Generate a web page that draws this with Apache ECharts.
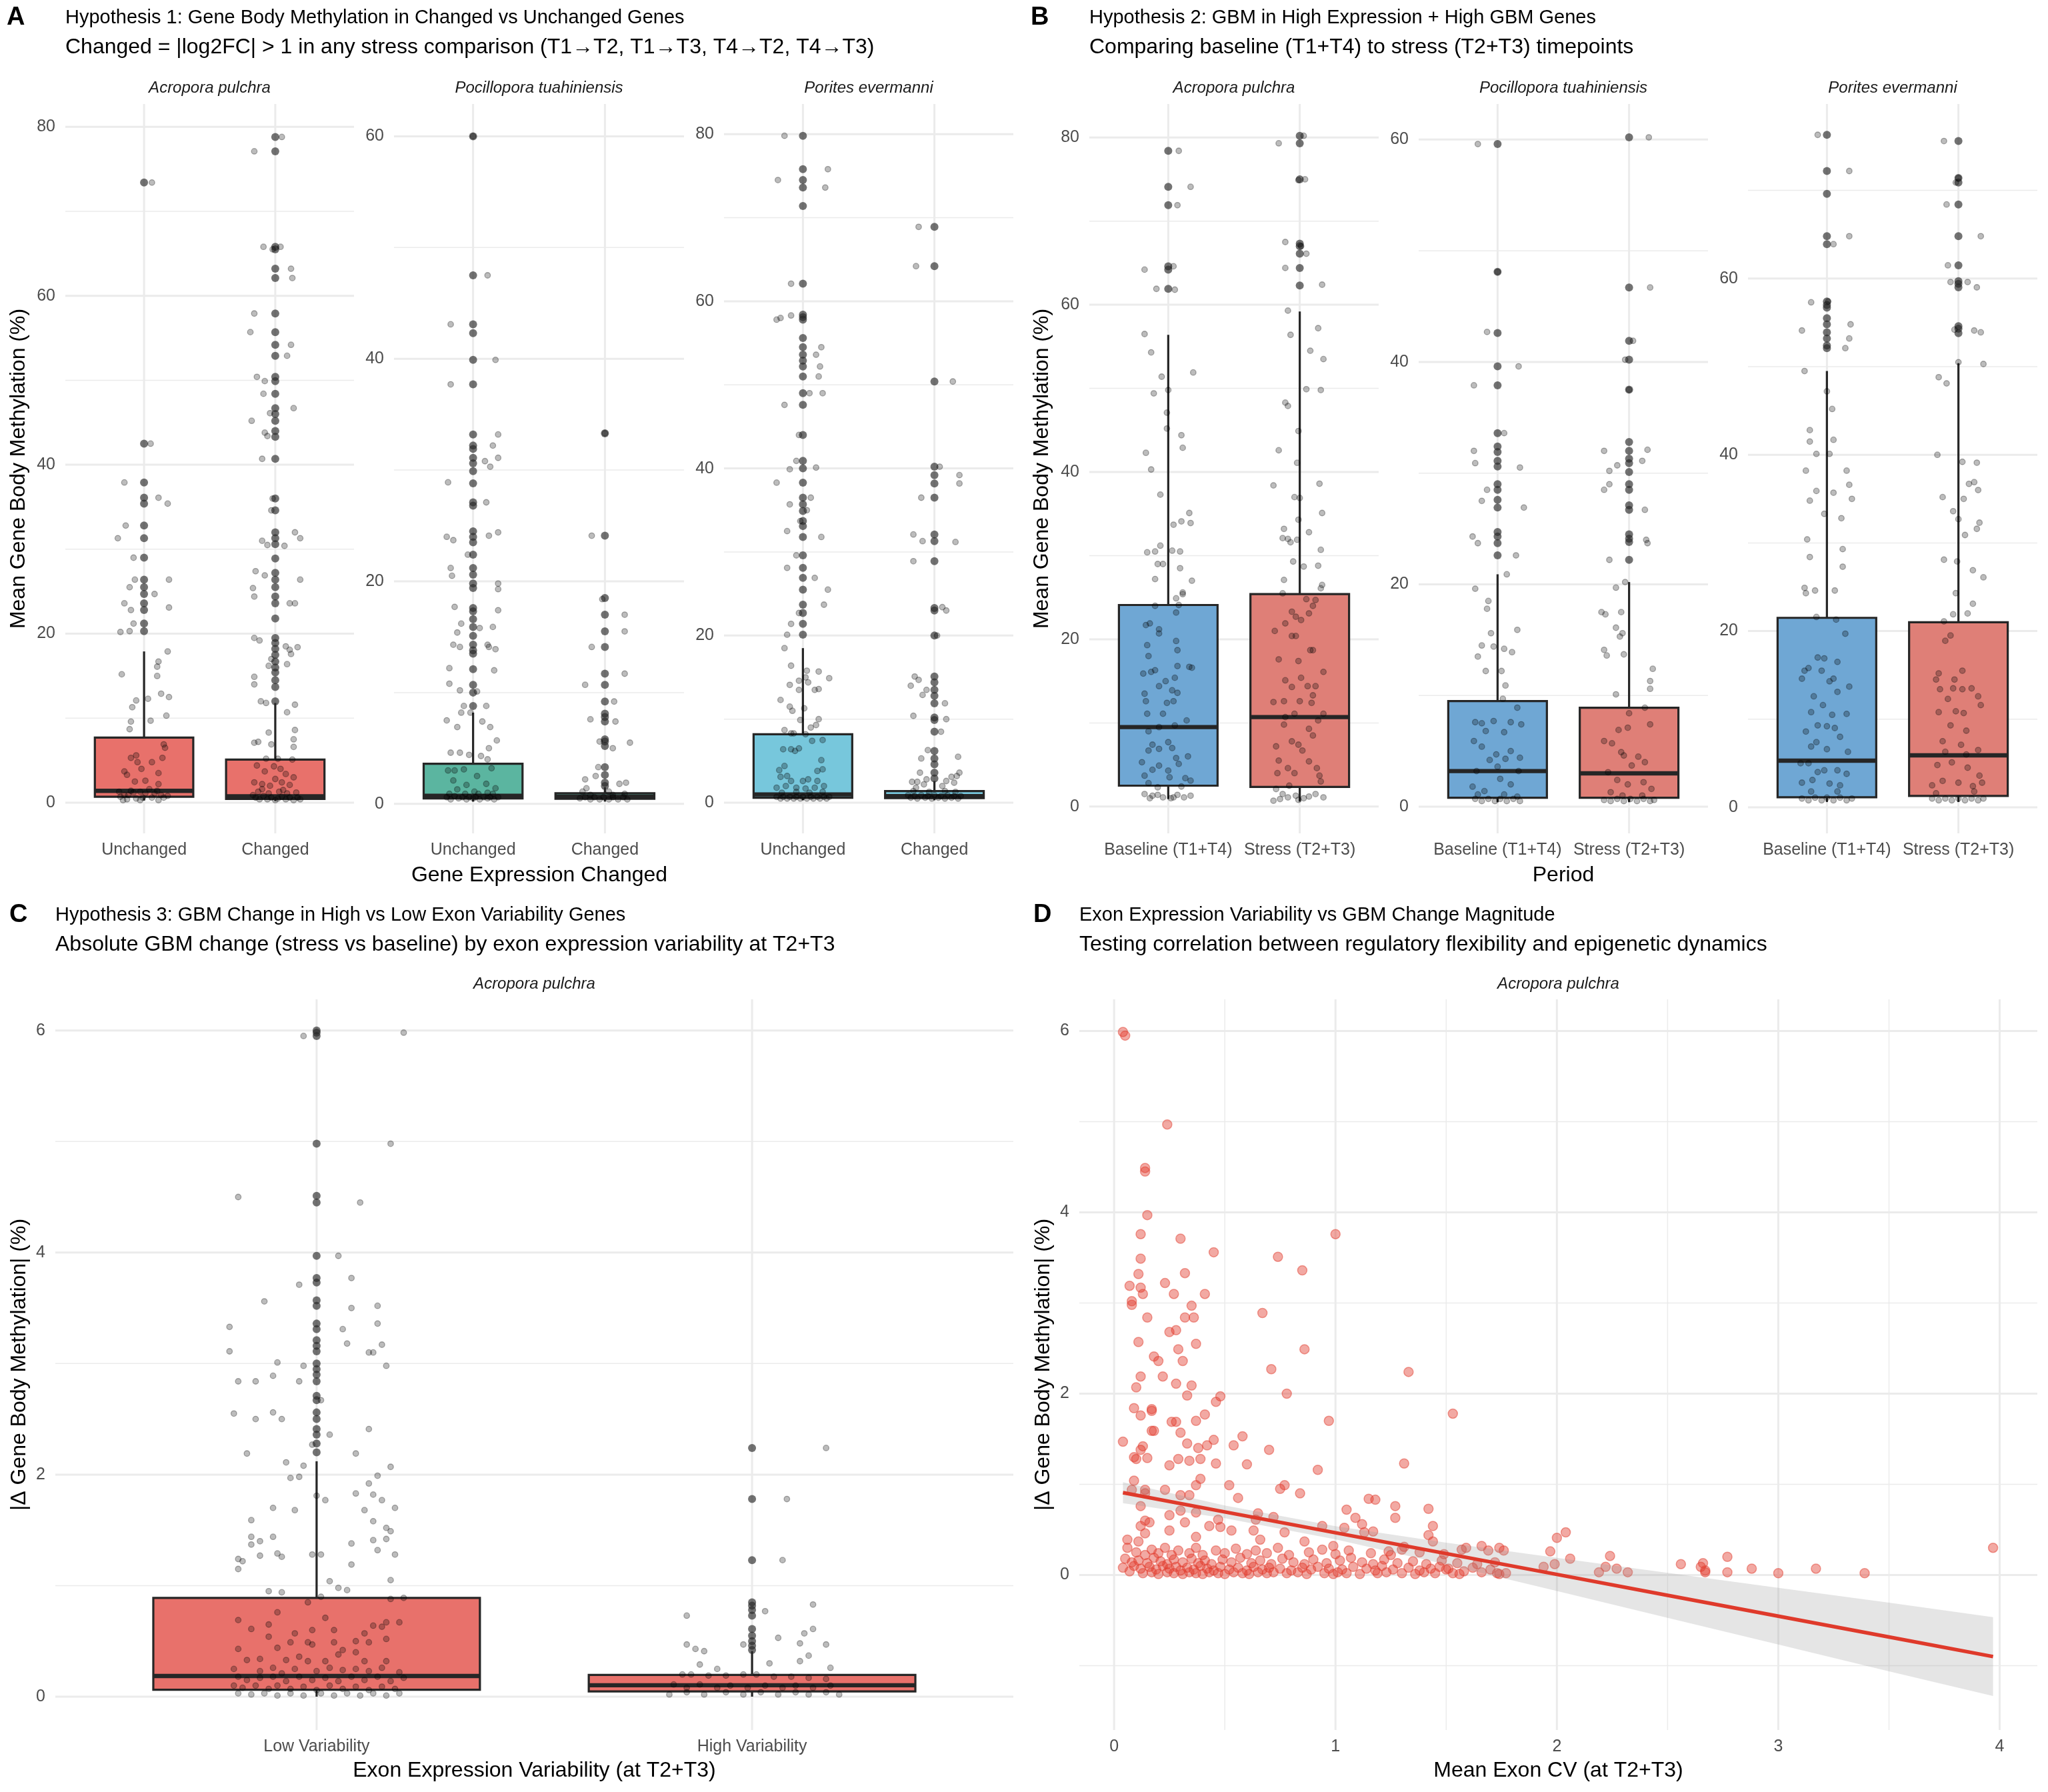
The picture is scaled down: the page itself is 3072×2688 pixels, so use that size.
<!DOCTYPE html>
<html><head><meta charset="utf-8">
<script src="https://cdn.jsdelivr.net/npm/echarts@6/dist/echarts.min.js"></script>
<style>html,body{margin:0;padding:0;background:#fff}#chart{width:3072px;height:2688px}</style>
</head><body><div id="chart"></div>
<script>
// ---------------- DATA ----------------
const speciesNames = ['Acropora pulchra','Pocillopora tuahiniensis','Porites evermanni'];
const catsA = ['Unchanged','Changed'];
const catsB = ['Baseline (T1+T4)','Stress (T2+T3)'];
const catsC = ['Low Variability','High Variability'];
const ticks80 = [0,20,40,60,80];
const ticks60 = [0,20,40,60];
const ticksC = [0,2,4,6];
const dXTicks = [0,1,2,3,4];
const dYTicks = [0,2,4,6];

// box stats: [lower whisker, Q1, median, Q3, upper whisker]
const a1UnchStats = [0.25,0.7,1.4,7.7,17.9];
const a1ChgStats  = [0.2,0.45,0.75,5.1,11.8];
const a2UnchStats = [0.2,0.48,0.72,3.6,8.2];
const a2ChgStats  = [0.2,0.45,0.65,0.95,1.5];
const a3UnchStats = [0.3,0.6,1.0,8.2,18.5];
const a3ChgStats  = [0.3,0.55,0.8,1.4,2.6];
const b1BaseStats = [0.9,2.5,9.5,24.1,56.4];
const b1StrStats  = [0.6,2.35,10.7,25.4,59.2];
const b2BaseStats = [0.4,0.8,3.2,9.5,20.9];
const b2StrStats  = [0.4,0.8,3.0,8.9,20.2];
const b3BaseStats = [0.6,1.15,5.3,21.5,49.5];
const b3StrStats  = [0.6,1.3,5.9,21.0,50.4];
const cLowStats   = [0.0,0.062,0.186,0.889,2.12];
const cHighStats  = [0.0,0.047,0.103,0.196,0.41];

// outliers (drawn at category centre)
const a1UnchOut = [73.4,42.5,37.9,36.1,35.4,32.8,31.3,29.0,26.4,25.5,24.7,23.6,22.8,21.2,20.3];
const a1ChgOut = [78.8,77.1,65.8,65.5,63.2,62.1,57.9,55.7,54.2,52.9,50.4,49.9,48.4,46.7,46.0,45.2,44.0,43.3,40.7,36.0,34.6,32.0,31.3,30.6,28.9,27.2,26.4,25.5,24.4,23.6,21.8,19.5,18.9,18.2,17.5,16.7,16.0,15.4,14.5,13.7,12.0];
const a2UnchOut = [60.0,47.5,43.1,42.3,39.9,37.7,33.2,32.2,31.9,31.1,30.6,29.9,28.8,27.1,26.8,24.5,24.0,23.5,22.4,21.2,20.6,19.8,19.4,17.6,17.3,16.6,15.9,15.1,14.3,13.8,13.5,12.1,10.7,10.0,8.8];
const a2ChgOut = [33.3,24.1,18.5,17.0,15.5,14.1,11.7,10.7,9.2,8.1,7.8,7.4,5.8,5.6,5.2,3.3,2.6,1.9,1.6];
const a3UnchOut = [79.8,75.8,74.5,73.6,71.4,62.1,58.4,58.1,57.8,55.6,54.5,53.6,52.9,52.2,51.0,49.0,47.6,44.0,40.9,40.0,38.3,36.5,35.7,34.9,33.7,33.1,31.8,29.6,28.1,26.9,25.5,23.7,22.7,21.4,20.1];
const a3ChgOut = [68.9,64.2,50.4,40.2,39.2,38.2,36.5,32.1,31.3,28.9,23.3,23.0,20.0,15.1,14.4,13.5,12.8,11.9,10.2,9.9,8.5,6.2,5.3,4.6,3.6,2.9];
const b1BaseOut = [78.4,74.1,71.9,64.6,64.2,61.9];
const b1StrOut = [80.2,79.3,75.0,67.3,67.0,66.1,64.4,62.3];
const b2BaseOut = [59.6,48.1,42.6,39.6,37.9,33.6,32.4,31.9,31.1,30.6,29.0,28.5,27.6,26.9,24.7,24.3,23.7,22.6];
const b2StrOut = [60.2,46.7,41.9,40.2,37.5,32.8,32.0,31.3,30.9,30.1,29.0,28.5,27.1,26.7,24.5,24.1,23.8,22.2];
const b3BaseOut = [76.3,72.2,69.6,64.8,63.9,57.4,57.0,56.7,55.5,54.8,53.9,53.2,52.4,52.1];
const b3StrOut = [75.6,71.4,70.9,68.4,64.8,61.5,59.7,59.4,59.0,54.6,54.3,53.8];
const cLowOut = [6.0,5.98,5.95,4.98,4.51,4.45,3.97,3.77,3.73,3.57,3.52,3.36,3.31,3.21,3.16,3.11,3.0,2.95,2.9,2.84,2.71,2.67,2.56,2.5,2.41,2.36,2.28,2.2];
const cHighOut = [2.24,1.78,1.23,0.85,0.82,0.78,0.73,0.61,0.55,0.5,0.46,0.42];

// jittered points: [offset from category centre, value]
const a1UnchJit = [[0.06,73.4],[0.05,42.5],[-0.15,37.9],[0.11,36.1],[0.18,35.4],[-0.14,32.8],[-0.2,31.3],[-0.08,29.0],[0.19,26.4],[-0.07,26.4],[-0.11,25.5],[0.08,24.7],[-0.15,23.6],[-0.1,22.8],[0.19,23.1],[-0.08,21.2],[-0.11,20.3],[-0.18,20.2],[0.18,17.9],[0.11,16.7],[0.1,16.1],[-0.17,15.2],[0.1,15.0],[0.13,12.9],[0.19,12.5],[-0.06,12.1],[0.03,12.3],[-0.09,11.3],[0.17,10.3],[-0.1,9.6],[0.05,9.7],[-0.11,8.7],[0.15,6.9],[0.16,6.5],[-0.1,5.3],[-0.06,5.6],[-0.05,4.8],[0.06,4.8],[0.14,5.3],[-0.15,3.7],[-0.02,4.0],[-0.13,3.3],[0.11,3.5],[-0.07,2.5],[0.01,2.6],[0.11,2.2],[-0.19,1.3],[-0.15,0.9],[-0.08,1.2],[-0.03,1.3],[0.01,1.1],[0.08,1.1],[0.13,0.9],[-0.13,0.4],[-0.06,0.5],[0.06,0.6],[0.15,0.6],[-0.16,0.3],[0.11,0.3],[0.18,0.8],[-0.1,1.4],[0.04,1.6],[-0.03,0.3],[0.1,1.4],[-0.18,0.7],[-0.01,0.6],[-0.12,0.9]];
const a1ChgJit = [[0.05,78.8],[-0.16,77.1],[-0.09,65.8],[0.04,65.8],[-0.02,65.5],[0.12,63.2],[0.13,62.1],[-0.16,57.9],[-0.19,55.7],[0.12,54.2],[0.09,52.9],[-0.14,50.4],[-0.08,49.9],[-0.09,48.4],[0.14,46.7],[-0.04,46.1],[-0.18,45.2],[-0.08,43.8],[-0.06,43.4],[-0.1,40.7],[-0.02,36.0],[-0.03,34.6],[0.15,32.0],[0.19,31.3],[-0.1,31.0],[-0.06,30.5],[0.07,30.4],[-0.15,27.4],[-0.08,26.9],[0.19,26.4],[-0.17,25.4],[-0.16,24.4],[0.11,23.6],[0.15,23.6],[-0.16,19.5],[-0.12,19.2],[0.08,18.5],[0.11,18.1],[0.17,18.4],[-0.03,17.0],[0.12,17.6],[0.09,16.4],[-0.05,16.2],[-0.16,14.9],[-0.16,14.0],[-0.11,12.0],[-0.07,11.8],[0.15,11.6],[0.09,10.7],[-0.05,8.3],[0.15,8.6],[0.14,7.5],[-0.13,7.2],[-0.16,7.1],[-0.03,6.9],[0.14,6.6],[-0.07,5.2],[0.02,5.2],[0.13,5.1],[-0.01,4.3],[0.04,4.0],[-0.14,4.4],[-0.08,3.7],[0.08,3.4],[0,2.8],[0.14,3.0],[-0.16,2.4],[-0.1,2.2],[-0.04,2.0],[0.05,2.4],[0.11,2.1],[-0.17,0.9],[-0.15,0.6],[-0.12,0.4],[-0.09,0.8],[-0.06,0.4],[-0.03,0.6],[0,0.3],[0.02,0.5],[0.05,0.7],[0.08,0.4],[0.11,0.6],[0.14,0.3],[0.17,0.6],[0.19,0.4],[-0.13,1.3],[-0.05,1.1],[0.03,1.3],[0.09,1.1],[0.16,1.2],[-0.1,1.6],[0.06,1.5]];
const a2UnchJit = [[0,60.0],[0.11,47.5],[-0.17,43.1],[0.17,39.9],[-0.17,37.7],[0.19,33.2],[0.15,32.2],[0.19,31.1],[0.09,30.8],[0.13,30.3],[-0.19,28.9],[0.1,27.1],[-0.2,24.0],[-0.15,23.7],[0.12,24.1],[0.19,24.4],[-0.04,22.4],[-0.17,21.2],[-0.16,20.5],[0.19,19.8],[0.19,19.3],[-0.14,17.7],[0.19,17.4],[-0.09,16.2],[0.05,15.8],[-0.12,15.4],[0.15,15.9],[-0.15,14.3],[-0.1,14.1],[0.11,14.3],[0.12,14.1],[0.17,13.9],[-0.18,12.2],[0.16,12.0],[-0.18,10.8],[-0.1,10.2],[0.03,10.1],[-0.07,8.8],[0.1,8.8],[-0.09,8.2],[-0.02,8.2],[-0.2,7.5],[-0.12,6.9],[0.07,7.4],[0.13,6.9],[0.18,5.7],[0.12,5.0],[-0.17,4.6],[-0.1,4.6],[-0.03,4.4],[0.06,4.3],[0.11,4.0],[-0.14,3.0],[-0.07,3.1],[0.03,2.5],[0.14,3.2],[-0.19,3.0],[-0.15,2.1],[-0.05,1.7],[0.1,1.8],[0.17,1.4],[-0.2,0.6],[-0.17,0.4],[-0.14,0.7],[-0.11,0.5],[-0.08,0.6],[-0.05,0.4],[-0.03,0.6],[0,0.5],[0.02,0.6],[0.05,0.4],[0.08,0.6],[0.11,0.5],[0.13,0.6],[0.16,0.4],[0.19,0.6],[-0.18,0.9],[-0.06,0.9],[0.04,0.9],[0.15,0.9],[-0.12,1.3],[0.01,1.1],[0.11,1.0]];
const a2ChgJit = [[0,33.3],[-0.1,24.1],[-0.02,18.4],[0.15,17.0],[0.15,15.5],[-0.1,14.1],[-0.15,10.7],[0.15,11.7],[0.07,9.2],[-0.11,7.6],[0.08,7.4],[-0.04,5.6],[0.19,5.5],[0.06,5.0],[-0.05,3.3],[-0.15,2.2],[-0.07,2.5],[-0.14,1.4],[0.11,1.8],[0.16,1.9],[-0.17,1.1],[0.03,1.1],[-0.19,0.5],[-0.15,0.6],[-0.11,0.4],[-0.08,0.6],[-0.04,0.4],[-0.01,0.6],[0.03,0.4],[0.06,0.6],[0.1,0.4],[0.14,0.6],[0.17,0.4],[-0.11,0.8],[0.06,0.8],[0.15,0.9]];
const a3UnchJit = [[-0.14,79.8],[0.19,75.8],[-0.19,74.5],[0.17,73.6],[-0.09,62.1],[-0.2,57.8],[-0.17,58.0],[-0.09,58.3],[0.14,54.5],[0.1,53.6],[0.13,52.2],[0.12,51.0],[0.05,49.0],[0.15,49.0],[-0.14,47.6],[-0.03,44.0],[-0.05,40.9],[-0.1,39.9],[0.1,40.1],[-0.2,38.3],[0.06,36.5],[-0.1,35.7],[0.03,35.0],[-0.02,33.7],[-0.12,32.5],[0.14,31.8],[-0.05,29.6],[-0.12,28.1],[0.09,26.9],[0.19,25.5],[0.16,23.7],[-0.03,22.7],[-0.09,21.4],[-0.12,20.1],[-0.14,18.5],[-0.09,16.4],[0.03,15.8],[0.12,15.7],[0.2,14.9],[-0.03,14.6],[0.02,15.0],[0.04,14.4],[-0.1,14.1],[-0.03,13.5],[0.09,13.5],[0.12,13.6],[-0.17,12.3],[-0.1,11.5],[-0.08,11.0],[0.01,11.3],[-0.02,9.9],[0.12,10.0],[0.06,9.0],[0.1,9.3],[-0.14,8.7],[-0.09,8.3],[-0.07,8.3],[0.02,8.2],[0.07,7.4],[0.15,7.5],[-0.15,6.4],[-0.09,6.4],[-0.06,6.2],[-0.03,6.5],[0.14,5.1],[-0.14,4.4],[-0.18,3.9],[0.11,3.8],[0.15,4.0],[-0.17,3.1],[-0.12,3.2],[-0.09,2.6],[0,2.6],[0.04,2.8],[0.11,2.6],[-0.2,1.8],[-0.13,2.0],[-0.05,1.8],[0.02,1.7],[0.09,1.8],[0.16,2.0],[-0.2,0.7],[-0.17,0.5],[-0.15,0.7],[-0.12,0.5],[-0.1,0.7],[-0.07,0.5],[-0.05,0.7],[-0.02,0.5],[0,0.7],[0.03,0.5],[0.06,0.7],[0.08,0.5],[0.11,0.7],[0.13,0.5],[0.16,0.7],[0.18,0.5],[0.2,0.7],[-0.16,1.2],[-0.05,1.3],[0.05,1.2],[0.15,1.3]];
const a3ChgJit = [[-0.12,68.9],[-0.14,64.2],[0.14,50.4],[0.04,40.2],[0.19,39.2],[0.19,38.2],[-0.1,36.5],[-0.16,32.1],[-0.09,31.3],[0.16,31.2],[-0.16,28.9],[0.06,23.4],[0.09,23.0],[0.02,20.0],[-0.15,15.1],[-0.12,14.7],[-0.18,14.0],[-0.06,13.5],[-0.09,12.9],[0.08,11.9],[0.09,10.0],[-0.16,10.4],[0.05,8.5],[-0.05,6.3],[-0.1,5.3],[0.18,5.5],[-0.11,3.6],[0.19,3.6],[-0.17,2.5],[-0.13,2.5],[-0.06,2.8],[0.09,2.6],[0.13,3.1],[0.17,3.2],[-0.14,1.8],[-0.08,2.2],[0.06,2.0],[0.15,2.4],[-0.2,0.9],[-0.18,0.6],[-0.15,0.8],[-0.13,0.5],[-0.1,0.9],[-0.07,0.6],[-0.05,0.8],[-0.02,0.5],[0,0.9],[0.03,0.6],[0.05,0.8],[0.08,0.5],[0.1,0.9],[0.13,0.6],[0.15,0.8],[0.18,0.5],[0.2,0.8],[-0.16,1.4],[-0.04,1.3],[0.08,1.4],[0.16,1.3]];
const b1BaseJit = [[0.08,78.4],[0.17,74.1],[0.07,71.9],[0.04,64.6],[-0.18,64.2],[-0.09,61.9],[0.05,61.8],[-0.18,56.5],[-0.13,54.3],[0.19,51.9],[-0.05,51.4],[0,49.8],[-0.11,49.4],[-0.01,47.1],[-0.01,45.2],[0.1,44.4],[0.11,42.9],[-0.17,42.3],[-0.13,40.3],[-0.06,37.3],[0.04,33.7],[0.1,34.1],[0.17,33.9],[0.16,35.1],[-0.06,31.2],[-0.16,30.4],[-0.1,30.5],[0.03,30.6],[0.09,30.5],[-0.08,29.0],[-0.04,29.0],[0.09,28.5],[-0.1,27.2],[0.18,27.0],[0.11,25.6],[0.11,25.4],[0.06,24.9],[0.08,24.1],[-0.1,24.0],[0.06,23.2],[-0.17,21.7],[-0.14,21.9],[-0.07,21.2],[0.06,19.8],[-0.16,19.3],[-0.07,20.7],[0.07,18.7],[-0.15,18.0],[0.16,16.7],[0.07,16.8],[0.18,16.6],[-0.19,15.9],[-0.13,16.1],[-0.1,16.3],[-0.02,15.0],[0.05,15.4],[-0.07,14.4],[0.03,13.9],[0.07,13.6],[-0.18,13.5],[0.04,12.6],[-0.17,12.6],[-0.01,12.4],[-0.16,11.1],[-0.04,11.1],[0.14,10.3],[0.05,9.7],[-0.07,9.5],[-0.15,9.0],[0,7.7],[-0.07,6.9],[0.03,7.0],[-0.15,6.7],[-0.12,7.4],[0.06,5.8],[0.15,6.0],[-0.2,5.3],[-0.07,4.9],[0.08,5.1],[0,4.3],[-0.12,4.4],[-0.18,3.7],[0.01,3.5],[0.13,3.4],[0.17,3.1],[-0.15,2.8],[-0.08,2.3],[0.1,2.4],[-0.18,1.5],[-0.12,1.3],[-0.04,1.1],[0.02,1.0],[0.07,1.4],[0.12,1.1],[0.17,1.3],[-0.14,1.0],[-0.08,1.4],[0.04,1.1]];
const b1StrJit = [[0.03,80.2],[-0.16,79.3],[-0.01,74.9],[0.04,75.0],[-0.11,67.5],[0.01,67.0],[0.05,66.1],[-0.11,64.4],[0.17,62.4],[-0.09,59.3],[0.14,57.2],[-0.07,56.4],[0.08,54.5],[0.18,53.5],[0.05,49.9],[0.16,49.8],[-0.11,48.3],[-0.09,47.9],[-0.01,44.9],[-0.16,42.6],[-0.02,41.1],[-0.2,38.4],[0.15,38.6],[-0.04,37.0],[0,36.9],[-0.12,33.2],[-0.01,34.3],[0.17,35.1],[-0.13,32.1],[-0.09,32.0],[0.07,32.8],[-0.02,31.9],[-0.07,31.6],[0.16,30.7],[-0.05,29.3],[0.14,28.8],[0.03,28.7],[-0.12,27.1],[0.17,26.5],[0.16,26.1],[-0.13,25.5],[0.05,24.8],[0.12,24.7],[0.1,24.0],[-0.06,23.3],[-0.03,22.7],[0.07,23.1],[0.01,22.3],[-0.11,21.9],[-0.03,20.4],[-0.19,21.0],[-0.06,20.4],[0.08,18.7],[0.1,18.7],[-0.16,17.6],[-0.01,17.4],[0.01,15.4],[0.18,16.1],[-0.11,15.1],[0.06,14.4],[-0.06,14.3],[0.12,14.4],[0.1,13.3],[-0.12,12.6],[-0.2,12.5],[0,12.6],[0.09,12.4],[0.18,11.1],[-0.11,10.7],[-0.04,11.1],[0.14,10.3],[-0.12,9.8],[0.07,9.3],[0.1,8.5],[-0.06,7.8],[-0.01,7.4],[-0.18,7.2],[0.02,6.7],[-0.16,5.5],[0.07,5.4],[-0.09,4.6],[0.13,4.6],[0.15,3.7],[-0.17,4.0],[-0.04,4.0],[0.16,3.0],[-0.08,2.5],[-0.18,2.1],[-0.13,1.5],[-0.09,1.1],[-0.03,1.3],[0.03,1.0],[0.07,1.2],[0.12,1.5],[0.18,1.1],[-0.2,0.7],[-0.01,0.8],[-0.15,0.9]];
const b2BaseJit = [[-0.15,59.6],[0,48.1],[-0.08,42.7],[0.16,39.6],[-0.18,37.9],[0.05,33.6],[-0.18,32.0],[-0.17,30.9],[0.17,30.5],[-0.08,28.5],[-0.12,27.5],[0.2,26.9],[-0.19,24.3],[-0.15,23.7],[0.14,22.6],[0.07,20.9],[-0.17,19.6],[-0.07,18.5],[-0.08,17.8],[-0.05,15.6],[0.15,15.9],[-0.12,14.5],[-0.03,14.4],[-0.15,13.5],[0.05,14.2],[0.11,13.9],[0.03,12.2],[-0.09,12.2],[0.06,10.9],[0.04,9.7],[0.15,8.9],[-0.17,7.6],[-0.12,7.5],[-0.03,7.7],[0.1,7.6],[0.18,7.4],[-0.09,6.8],[0.05,6.7],[-0.18,5.9],[-0.12,5.4],[-0.01,4.7],[0.1,5.0],[0.17,4.4],[0.06,4.3],[-0.06,4.2],[0,3.6],[-0.16,3.2],[0.16,3.2],[0.02,2.5],[-0.19,1.8],[0.1,2.0],[-0.1,1.4],[-0.17,0.7],[-0.12,0.5],[-0.07,0.7],[-0.02,0.5],[0.02,0.7],[0.07,0.5],[0.12,0.7],[0.17,0.5],[-0.15,1.1],[0.05,1.1],[0.15,0.9]];
const b2StrJit = [[0.15,60.2],[0.16,46.7],[0.03,41.9],[-0.03,40.2],[0,37.5],[-0.19,32.0],[0.14,32.1],[0.1,31.1],[-0.09,30.7],[-0.15,30.2],[-0.19,28.5],[-0.15,29.0],[0.12,26.7],[0.13,24.0],[0.14,23.7],[-0.15,22.2],[-0.03,20.2],[-0.1,19.7],[-0.21,17.5],[-0.18,17.3],[-0.06,17.5],[-0.1,16.1],[-0.05,15.6],[-0.07,15.3],[-0.19,14.1],[-0.17,13.6],[-0.04,13.7],[0.18,12.4],[0.16,11.3],[0.16,10.6],[-0.1,10.1],[0.12,8.9],[0,8.4],[-0.08,6.9],[-0.01,7.1],[0.16,7.4],[-0.19,5.9],[-0.13,5.7],[-0.06,4.9],[-0.04,4.6],[0.07,4.5],[0.12,4.0],[0.02,3.7],[-0.16,3.1],[-0.09,2.4],[-0.01,2.0],[0.11,2.2],[0.17,1.6],[-0.14,1.3],[-0.19,0.6],[-0.14,0.5],[-0.09,0.7],[-0.04,0.5],[0.01,0.7],[0.06,0.5],[0.11,0.7],[0.16,0.5],[0.19,0.6],[-0.05,1.0],[0.1,1.0]];
const b3BaseJit = [[-0.07,76.3],[0.17,72.2],[0.17,64.8],[0.05,63.9],[-0.12,57.3],[0.01,57.4],[-0.19,54.1],[0.18,54.8],[0.17,53.2],[0.14,52.1],[-0.17,49.5],[0,47.2],[0.04,45.2],[-0.13,42.8],[-0.13,41.5],[0.05,41.7],[-0.08,40.1],[0.02,40.1],[-0.16,38.2],[0.15,38.2],[-0.08,35.9],[0.05,35.7],[0.17,36.6],[0.19,35.0],[-0.13,34.8],[-0.02,33.3],[0.11,32.8],[-0.15,30.4],[0.12,29.3],[-0.13,28.4],[0.12,27.3],[-0.17,24.9],[-0.16,24.3],[-0.09,24.6],[0.06,24.6],[-0.08,21.6],[0.07,21.3],[0.14,19.7],[-0.07,17.0],[-0.02,16.9],[0.08,16.5],[-0.17,15.5],[-0.14,15.8],[-0.04,15.5],[-0.19,14.6],[0.05,14.6],[0.02,14.3],[0.17,13.7],[-0.1,12.6],[0.08,13.1],[-0.03,11.6],[-0.12,10.8],[0.04,10.5],[0.15,10.6],[-0.07,9.3],[0,9.2],[0.06,9.0],[-0.16,8.6],[-0.08,7.4],[0.1,8.0],[-0.12,6.9],[0,6.6],[0.16,6.3],[-0.2,5.0],[-0.14,5.0],[-0.02,4.2],[-0.07,4.0],[0.08,4.2],[0.15,3.8],[-0.19,2.8],[-0.11,3.1],[0.02,2.7],[0.1,2.5],[-0.19,1.0],[-0.14,0.8],[-0.09,1.1],[-0.04,0.8],[0,1.1],[0.05,0.8],[0.1,1.1],[0.15,0.8],[0.19,1.0],[-0.12,1.8],[0.08,1.8]];
const b3StrJit = [[-0.11,75.6],[0,71.4],[-0.02,70.9],[-0.09,68.4],[0.17,64.8],[-0.08,61.5],[-0.06,59.6],[0.07,59.6],[0.14,59.0],[0.12,54.1],[0.17,53.9],[-0.03,54.2],[0.19,50.3],[0,50.5],[-0.15,48.8],[-0.09,48.1],[-0.16,40.0],[0.03,39.2],[0.14,39.1],[0.08,36.7],[0.12,36.9],[0.15,36.0],[-0.12,35.2],[0.04,35.0],[-0.04,33.6],[0,32.7],[0.16,32.3],[0.14,31.6],[0.05,30.9],[-0.11,28.1],[-0.01,27.9],[0.11,26.9],[0.19,26.1],[-0.02,24.3],[0.11,23.1],[0.07,22.0],[-0.04,21.9],[-0.11,21.1],[-0.06,19.5],[-0.1,18.9],[-0.15,15.2],[-0.03,14.5],[-0.17,14.5],[0.03,15.5],[-0.14,13.4],[-0.04,13.5],[0.03,13.4],[0.1,13.5],[0.15,12.6],[-0.08,12.3],[0.17,11.6],[-0.15,10.8],[-0.02,10.9],[0.04,10.7],[-0.06,9.3],[0.06,8.7],[-0.12,7.5],[0.02,7.1],[-0.1,6.3],[0.06,6.0],[0.15,6.5],[-0.16,4.8],[-0.05,5.1],[0.07,4.5],[0.16,3.6],[-0.2,2.5],[-0.12,3.0],[0,2.8],[0.11,2.4],[0.18,2.8],[-0.2,1.0],[-0.15,0.8],[-0.1,1.0],[-0.05,0.8],[0,1.0],[0.05,0.8],[0.1,1.0],[0.15,0.8],[0.19,1.0],[-0.17,1.6],[0.12,1.8]];
const cLowJit = [[-0.03,5.95],[0.2,5.98],[0.17,4.98],[-0.18,4.5],[0.1,4.45],[0.05,3.97],[-0.04,3.71],[0.08,3.77],[-0.12,3.56],[0.08,3.5],[0.14,3.52],[-0.2,3.33],[0.06,3.31],[0.14,3.36],[0.07,3.18],[0.15,3.17],[-0.2,3.11],[0.12,3.1],[0.13,3.1],[-0.09,3.01],[-0.03,2.98],[0.16,2.98],[-0.18,2.84],[-0.14,2.84],[-0.1,2.89],[-0.04,2.84],[0.01,2.67],[-0.19,2.55],[-0.1,2.56],[-0.14,2.5],[-0.08,2.5],[0.03,2.36],[0.12,2.41],[-0.16,2.19],[0.09,2.19],[-0.01,2.27],[-0.07,2.11],[-0.03,2.08],[0.17,2.07],[-0.06,1.97],[-0.04,1.98],[0.14,1.99],[0.12,1.92],[0.09,1.83],[0.13,1.82],[0,1.81],[0.02,1.77],[0.15,1.77],[-0.1,1.7],[-0.05,1.68],[0.11,1.68],[0.18,1.7],[-0.15,1.59],[0.13,1.58],[0.16,1.52],[0.17,1.49],[-0.15,1.44],[-0.1,1.44],[0.16,1.42],[-0.15,1.37],[-0.13,1.4],[0.13,1.41],[0.08,1.38],[0.14,1.32],[-0.09,1.29],[-0.08,1.26],[-0.13,1.27],[-0.01,1.28],[0.01,1.28],[0.18,1.28],[-0.18,1.24],[-0.17,1.22],[0.08,1.19],[-0.18,1.15],[0.17,1.05],[0.03,1.04],[0.05,0.98],[0.07,0.96],[-0.11,0.95],[-0.08,0.94],[0.2,0.89],[0.17,0.88],[0.01,0.9],[-0.02,0.85],[-0.09,0.76],[-0.18,0.69],[-0.15,0.61],[0.16,0.67],[0.19,0.67],[0.13,0.64],[0.15,0.63],[0.02,0.71],[-0.11,0.65],[-0.05,0.57],[-0.01,0.6],[0.04,0.6],[0.11,0.57],[0.16,0.52],[-0.11,0.54],[-0.06,0.49],[-0.02,0.49],[0.04,0.49],[0.09,0.5],[0.12,0.49],[-0.18,0.43],[-0.09,0.44],[-0.01,0.47],[0.06,0.42],[0.09,0.4],[-0.16,0.33],[-0.13,0.34],[-0.07,0.33],[-0.04,0.36],[-0.02,0.32],[0.02,0.32],[0.05,0.38],[0.11,0.32],[0.16,0.32],[-0.19,0.25],[-0.13,0.23],[-0.1,0.26],[-0.08,0.21],[-0.05,0.25],[0,0.23],[0.03,0.26],[0.06,0.24],[0.09,0.25],[0.12,0.23],[0.15,0.26],[0.19,0.22],[-0.18,0.18],[-0.16,0.15],[-0.13,0.17],[-0.1,0.18],[-0.07,0.14],[-0.04,0.18],[-0.01,0.15],[0.02,0.17],[0.05,0.14],[0.08,0.18],[0.11,0.15],[0.14,0.18],[0.17,0.14],[0.2,0.17],[-0.19,0.1],[-0.17,0.08],[-0.14,0.1],[-0.11,0.07],[-0.09,0.1],[-0.06,0.07],[-0.03,0.09],[0,0.06],[0.03,0.1],[0.06,0.07],[0.09,0.09],[0.12,0.06],[0.15,0.09],[0.18,0.07],[-0.18,0.03],[-0.15,0.02],[-0.12,0.03],[-0.09,0.01],[-0.06,0.03],[-0.03,0.01],[0.01,0.03],[0.04,0.01],[0.07,0.03],[0.1,0.01],[0.13,0.03],[0.16,0.01],[0.19,0.03]];
const cHighJit = [[0.17,2.24],[0.08,1.78],[0.07,1.23],[0.14,0.83],[-0.15,0.73],[0.03,0.77],[0.14,0.61],[0.12,0.57],[0.06,0.53],[-0.15,0.47],[0.11,0.48],[0.17,0.47],[-0.13,0.43],[-0.11,0.41],[-0.02,0.47],[0.13,0.37],[-0.12,0.29],[-0.08,0.25],[0.04,0.3],[0.11,0.32],[0.18,0.26],[-0.16,0.2],[-0.14,0.2],[-0.1,0.19],[-0.06,0.19],[-0.02,0.2],[0.01,0.2],[0.05,0.18],[0.09,0.18],[0.13,0.17],[0.17,0.16],[-0.18,0.11],[-0.15,0.08],[-0.12,0.11],[-0.08,0.08],[-0.05,0.1],[-0.01,0.08],[0.03,0.1],[0.07,0.08],[0.1,0.1],[0.14,0.08],[0.18,0.1],[-0.19,0.02],[-0.15,0.04],[-0.11,0.02],[-0.06,0.04],[-0.02,0.02],[0.02,0.04],[0.06,0.02],[0.1,0.04],[0.13,0.02],[0.17,0.04],[0.2,0.02]];

// Panel D: [mean exon CV, |delta GBM|]
const dPoints = [[0.04,5.99],[0.05,5.95],[0.24,4.97],[0.14,4.49],[0.14,4.45],[0.15,3.97],[0.12,3.76],[1.0,3.76],[0.3,3.71],[0.45,3.56],[0.74,3.51],[0.12,3.49],[0.85,3.36],[0.11,3.32],[0.32,3.33],[0.07,3.19],[0.12,3.17],[0.23,3.22],[0.13,3.1],[0.27,3.1],[0.41,3.1],[0.08,3.02],[0.08,2.98],[0.35,2.97],[0.15,2.84],[0.32,2.84],[0.36,2.84],[0.67,2.89],[0.11,2.57],[0.37,2.55],[0.25,2.68],[0.28,2.7],[0.29,2.49],[0.86,2.49],[0.18,2.41],[0.2,2.36],[0.31,2.36],[0.22,2.19],[0.12,2.19],[0.71,2.27],[1.33,2.24],[0.28,2.11],[0.35,2.09],[0.1,2.07],[0.48,1.97],[0.46,1.91],[0.33,1.98],[0.78,2.0],[0.09,1.84],[0.17,1.83],[0.17,1.81],[0.12,1.76],[0.41,1.77],[1.53,1.78],[0.97,1.7],[0.26,1.69],[0.28,1.69],[0.37,1.7],[0.17,1.59],[0.18,1.59],[0.3,1.57],[0.04,1.47],[0.45,1.49],[0.58,1.53],[0.33,1.45],[0.13,1.42],[0.54,1.43],[0.12,1.38],[0.38,1.4],[0.7,1.38],[0.42,1.43],[0.15,1.29],[0.1,1.28],[0.29,1.28],[0.39,1.28],[0.34,1.26],[0.09,1.3],[0.46,1.23],[0.6,1.22],[0.25,1.21],[1.31,1.23],[0.92,1.16],[0.09,1.04],[0.39,1.06],[0.52,0.99],[0.77,0.99],[0.37,0.99],[0.08,0.94],[0.14,0.94],[0.23,0.94],[0.75,0.95],[0.84,0.9],[0.3,0.88],[0.34,0.88],[0.14,0.9],[0.56,0.85],[0.12,0.76],[0.37,0.69],[0.3,0.71],[0.65,0.68],[0.72,0.64],[1.05,0.72],[1.15,0.84],[1.18,0.83],[1.27,0.76],[1.42,0.73],[0.14,0.6],[0.25,0.66],[0.47,0.61],[0.64,0.61],[1.09,0.63],[1.27,0.63],[0.32,0.58],[0.16,0.58],[0.12,0.54],[0.43,0.54],[0.48,0.53],[0.94,0.54],[1.04,0.52],[1.12,0.56],[1.44,0.54],[0.14,0.46],[0.25,0.49],[0.53,0.49],[0.63,0.49],[0.77,0.47],[1.13,0.47],[1.17,0.48],[1.42,0.44],[2.04,0.47],[0.06,0.39],[0.11,0.37],[0.37,0.42],[0.66,0.39],[0.86,0.37],[2.0,0.41],[0.99,0.32],[1.24,0.26],[1.31,0.31],[1.44,0.37],[1.59,0.3],[1.66,0.32],[1.74,0.3],[1.76,0.27],[1.69,0.27],[1.97,0.26],[2.24,0.21],[2.77,0.2],[3.97,0.3],[2.06,0.18],[2.66,0.13],[2.56,0.12],[2.88,0.07],[3.17,0.07],[2.22,0.09],[2.27,0.07],[2.65,0.09],[2.67,0.05],[2.77,0.03],[3.0,0.02],[3.39,0.02],[2.19,0.03],[2.32,0.03],[1.94,0.09],[1.99,0.12],[2.67,0.03],[1.77,0.02],[1.73,0.02],[1.66,0.03],[1.58,0.04],[1.51,0.07],
[0.07,0.04],[0.13,0.02],[0.17,0.03],[0.2,0.01],[0.24,0.03],[0.27,0.02],[0.31,0.01],[0.34,0.03],[0.37,0.02],[0.4,0.01],[0.43,0.03],[0.47,0.02],[0.5,0.01],[0.54,0.03],[0.58,0.02],[0.61,0.01],[0.65,0.03],[0.69,0.02],[0.72,0.03],[0.78,0.02],[0.83,0.03],[0.87,0.01],[0.95,0.02],[0.99,0.01],[1.01,0.03],[1.05,0.02],[1.11,0.01],[1.19,0.02],[1.23,0.03],[1.3,0.02],[1.36,0.01],[1.4,0.03],[1.45,0.02],[1.53,0.02],[1.56,0.01],[1.74,0.01],
[0.04,0.08],[0.09,0.1],[0.12,0.07],[0.16,0.09],[0.19,0.06],[0.22,0.1],[0.25,0.07],[0.28,0.09],[0.3,0.05],[0.33,0.08],[0.36,0.06],[0.39,0.1],[0.42,0.07],[0.45,0.05],[0.48,0.09],[0.52,0.06],[0.56,0.08],[0.6,0.05],[0.63,0.09],[0.67,0.06],[0.7,0.08],[0.75,0.07],[0.8,0.05],[0.85,0.08],[0.89,0.06],[0.92,0.09],[0.97,0.07],[1.03,0.06],[1.08,0.09],[1.14,0.07],[1.18,0.05],[1.21,0.1],[1.26,0.06],[1.33,0.08],[1.38,0.05],[1.43,0.07],[1.47,0.09],[1.5,0.06],[1.62,0.08],[1.7,0.06],
[0.05,0.18],[0.08,0.14],[0.11,0.16],[0.15,0.13],[0.18,0.19],[0.21,0.15],[0.24,0.12],[0.27,0.17],[0.31,0.14],[0.35,0.18],[0.38,0.13],[0.41,0.16],[0.44,0.12],[0.49,0.17],[0.53,0.14],[0.57,0.19],[0.62,0.13],[0.66,0.16],[0.71,0.12],[0.76,0.18],[0.81,0.14],[0.86,0.12],[0.9,0.17],[0.96,0.13],[1.02,0.16],[1.07,0.19],[1.12,0.14],[1.17,0.12],[1.22,0.17],[1.28,0.13],[1.35,0.15],[1.41,0.12],[1.48,0.16],[1.55,0.13],[1.64,0.12],[1.72,0.14],
[0.06,0.3],[0.1,0.25],[0.14,0.22],[0.17,0.28],[0.2,0.24],[0.23,0.3],[0.26,0.22],[0.29,0.27],[0.34,0.24],[0.37,0.3],[0.4,0.22],[0.46,0.27],[0.5,0.24],[0.55,0.29],[0.6,0.23],[0.64,0.27],[0.69,0.24],[0.74,0.3],[0.79,0.22],[0.88,0.25],[0.94,0.28],[1.0,0.23],[1.06,0.27],[1.16,0.24],[1.25,0.22],[1.3,0.28],[1.38,0.25],[1.49,0.23],[1.57,0.28]];

// Linear fit and 95% band, read at these CV values
const dFitX  = [0.04,0.5,1.0,1.5,2.0,2.5,3.0,3.5,3.97];
const dFitY  = [0.908,0.696,0.466,0.236,0.006,-0.224,-0.454,-0.684,-0.900];
const dBandHi = [1.023,0.766,0.538,0.356,0.189,0.024,-0.142,-0.306,-0.465];
const dBandLo = [0.793,0.626,0.394,0.116,-0.177,-0.472,-0.766,-1.062,-1.335];

// ---------------- CHART ----------------
const FONT = '"Liberation Sans", Arial, Helvetica, sans-serif';
const GRID = '#EBEBEB';
const INK = '#262626';
const TICK = '#4D4D4D';
const RED = '#E8716B', TEAL = '#5BB5A0', SKY = '#77C7DC', BLUE = '#6FA7D4', ROSE = '#DF7F77';

const grids = [], xAxes = [], yAxes = [], series = [], graphics = [];

function txt(x, y, text, o) {
  o = o || {};
  graphics.push({type:'text', x:x, y:y, rotation:o.rot || 0, silent:true, z:100,
    style:{text:text, fontFamily:FONT, fontSize:o.size || 25, fontWeight:o.weight || 'normal',
      fontStyle:o.italic ? 'italic' : 'normal', fill:o.color || '#000', align:o.align || 'left', verticalAlign:'middle'}});
}

function gridSeries(i, x0, y0, hMaj, hMin, vMaj, vMin) {
  const data = [];
  hMaj.forEach(v => data.push([x0, v, 0, 1]));
  hMin.forEach(v => data.push([x0, v, 0, 0]));
  vMaj.forEach(v => data.push([v, y0, 1, 1]));
  vMin.forEach(v => data.push([v, y0, 1, 0]));
  return {type:'custom', xAxisIndex:i, yAxisIndex:i, z:0, silent:true, animation:false, clip:false, data:data,
    renderItem:function(params, api){
      const cs = params.coordSys;
      const p = api.coord([api.value(0), api.value(1)]);
      const vert = api.value(2) === 1, major = api.value(3) === 1;
      const shape = vert ? {x1:p[0], y1:cs.y, x2:p[0], y2:cs.y + cs.height}
                         : {x1:cs.x, y1:p[1], x2:cs.x + cs.width, y2:p[1]};
      return {type:'line', shape:shape, style:{stroke:GRID, lineWidth: major ? 3 : 1.5}};
    }};
}

function boxSeries(i, stats, fills) {
  return {type:'custom', xAxisIndex:i, yAxisIndex:i, z:2, silent:true, animation:false, clip:false,
    data: stats.map((s, k) => [k + 1, s[0], s[1], s[2], s[3], s[4], k]),
    renderItem:function(params, api){
      const x = api.value(0), lo = api.value(1), q1 = api.value(2), md = api.value(3), q3 = api.value(4), hi = api.value(5), k = api.value(6);
      const hw = 0.375;
      const a = api.coord([x - hw, q3]), b = api.coord([x + hw, q1]);
      const m1 = api.coord([x - hw, md]), m2 = api.coord([x + hw, md]);
      const t = api.coord([x, hi]), u = api.coord([x, q3]), d = api.coord([x, q1]), l = api.coord([x, lo]);
      return {type:'group', children:[
        {type:'line', shape:{x1:t[0], y1:t[1], x2:u[0], y2:u[1]}, style:{stroke:INK, lineWidth:3.2}},
        {type:'line', shape:{x1:d[0], y1:d[1], x2:l[0], y2:l[1]}, style:{stroke:INK, lineWidth:3.2}},
        {type:'rect', shape:{x:a[0], y:a[1], width:b[0] - a[0], height:b[1] - a[1]}, style:{fill:fills[k], stroke:INK, lineWidth:3.2}},
        {type:'line', shape:{x1:m1[0], y1:m1[1], x2:m2[0], y2:m2[1]}, style:{stroke:INK, lineWidth:6.4}}
      ]};
    }};
}

function axisLabel(vals, fmt, margin) {
  const o = {customValues:vals, color:TICK, fontSize:25, fontFamily:FONT, margin:margin};
  if (fmt) o.formatter = fmt;
  return o;
}

function addBoxFacet(f) {
  const i = grids.length;
  grids.push({left:f.left, top:f.top, width:f.width, height:f.height, containLabel:false, outerBoundsMode:'none'});
  xAxes.push({gridIndex:i, type:'value', min:0.4, max:2.6, axisLine:{show:false}, axisTick:{show:false}, splitLine:{show:false},
    axisLabel:axisLabel([1, 2], v => f.cats[Math.round(v) - 1], 13)});
  yAxes.push({gridIndex:i, type:'value', min:f.ymin, max:f.ymax, axisLine:{show:false}, axisTick:{show:false}, splitLine:{show:false},
    axisLabel:axisLabel(f.major, null, 15)});
  series.push(gridSeries(i, 0.4, f.ymin, f.major, f.minor, [1, 2], []));
  series.push(boxSeries(i, f.stats, f.fills));
  series.push({type:'scatter', xAxisIndex:i, yAxisIndex:i, z:3, silent:true, animation:false, symbolSize:12,
    itemStyle:{color:'rgba(40,40,40,0.82)'},
    data: f.outs.flatMap((arr, k) => arr.map(v => [k + 1, v]))});
  series.push({type:'scatter', xAxisIndex:i, yAxisIndex:i, z:4, silent:true, animation:false, symbolSize:8.5,
    itemStyle:{color:'rgba(0,0,0,0.33)', borderColor:'rgba(0,0,0,0.38)', borderWidth:1.3},
    data: f.jits.flatMap((arr, k) => arr.map(p => [k + 1 + p[0], p[1]]))});
  txt(f.left + f.width / 2, f.stripY, f.strip, {size:24, italic:true, color:'#1A1A1A', align:'center'});
}

const facetDefs = [
  {left:98,   top:156, width:433, height:1094, ymin:-3.63, ymax:82.7, major:ticks80, minor:[10,30,50,70], cats:catsA,
   stats:[a1UnchStats, a1ChgStats], outs:[a1UnchOut, a1ChgOut], jits:[a1UnchJit, a1ChgJit], fills:[RED, RED], strip:speciesNames[0], stripY:132},
  {left:591,  top:156, width:435, height:1094, ymin:-2.65, ymax:62.9, major:ticks60, minor:[10,30,50], cats:catsA,
   stats:[a2UnchStats, a2ChgStats], outs:[a2UnchOut, a2ChgOut], jits:[a2UnchJit, a2ChgJit], fills:[TEAL, TEAL], strip:speciesNames[1], stripY:132},
  {left:1086, top:156, width:434, height:1094, ymin:-3.66, ymax:83.6, major:ticks80, minor:[10,30,50,70], cats:catsA,
   stats:[a3UnchStats, a3ChgStats], outs:[a3UnchOut, a3ChgOut], jits:[a3UnchJit, a3ChgJit], fills:[SKY, SKY], strip:speciesNames[2], stripY:132},
  {left:1634, top:156, width:434, height:1094, ymin:-3.2, ymax:84.0, major:ticks80, minor:[10,30,50,70], cats:catsB,
   stats:[b1BaseStats, b1StrStats], outs:[b1BaseOut, b1StrOut], jits:[b1BaseJit, b1StrJit], fills:[BLUE, ROSE], strip:speciesNames[0], stripY:132},
  {left:2128, top:156, width:434, height:1094, ymin:-2.4, ymax:63.2, major:ticks60, minor:[10,30,50], cats:catsB,
   stats:[b2BaseStats, b2StrStats], outs:[b2BaseOut, b2StrOut], jits:[b2BaseJit, b2StrJit], fills:[BLUE, ROSE], strip:speciesNames[1], stripY:132},
  {left:2622, top:156, width:434, height:1094, ymin:-2.95, ymax:79.8, major:ticks60, minor:[10,30,50,70], cats:catsB,
   stats:[b3BaseStats, b3StrStats], outs:[b3BaseOut, b3StrOut], jits:[b3BaseJit, b3StrJit], fills:[BLUE, ROSE], strip:speciesNames[2], stripY:132},
  {left:83,   top:1499, width:1437, height:1096, ymin:-0.30, ymax:6.28, major:ticksC, minor:[1,3,5], cats:catsC,
   stats:[cLowStats, cHighStats], outs:[cLowOut, cHighOut], jits:[cLowJit, cHighJit], fills:[RED, RED], strip:speciesNames[0], stripY:1476}
];
facetDefs.forEach(addBoxFacet);

// Panel D scatter
(function(){
  const i = grids.length;
  const xmin = -0.157, xmax = 4.17, ymin = -1.71, ymax = 6.35;
  grids.push({left:1619, top:1499, width:1437, height:1096, containLabel:false, outerBoundsMode:'none'});
  xAxes.push({gridIndex:i, type:'value', min:xmin, max:xmax, axisLine:{show:false}, axisTick:{show:false}, splitLine:{show:false},
    axisLabel:axisLabel(dXTicks, null, 13)});
  yAxes.push({gridIndex:i, type:'value', min:ymin, max:ymax, axisLine:{show:false}, axisTick:{show:false}, splitLine:{show:false},
    axisLabel:axisLabel(dYTicks, null, 15)});
  series.push(gridSeries(i, xmin, ymin, dYTicks, [-1,1,3,5], dXTicks, [0.5,1.5,2.5,3.5]));
  series.push({type:'scatter', xAxisIndex:i, yAxisIndex:i, z:2, silent:true, animation:false, symbolSize:14,
    itemStyle:{color:'rgba(226,60,46,0.55)', borderColor:'rgba(226,60,46,0.6)', borderWidth:1.5}, data:dPoints});
  series.push({type:'custom', xAxisIndex:i, yAxisIndex:i, z:3, silent:true, animation:false, clip:false, data:[[dFitX[0], dFitY[0]]],
    renderItem:function(params, api){
      const up = dFitX.map((x, j) => api.coord([x, dBandHi[j]]));
      const dn = dFitX.map((x, j) => api.coord([x, dBandLo[j]])).reverse();
      return {type:'polygon', shape:{points:up.concat(dn)}, style:{fill:'rgba(153,153,153,0.25)'}};
    }});
  series.push({type:'line', xAxisIndex:i, yAxisIndex:i, z:4, silent:true, animation:false, showSymbol:false, symbol:'none',
    lineStyle:{color:'#DF3A2B', width:5.5}, data:dFitX.map((x, j) => [x, dFitY[j]])});
  txt(1619 + 1437 / 2, 1476, speciesNames[0], {size:24, italic:true, color:'#1A1A1A', align:'center'});
})();

// Titles, tags, axis titles
txt(10, 27, 'A', {size:38, weight:'bold'});
txt(98, 27, 'Hypothesis 1: Gene Body Methylation in Changed vs Unchanged Genes', {size:29});
txt(98, 71, 'Changed = |log2FC| > 1 in any stress comparison (T1\u2192T2, T1\u2192T3, T4\u2192T2, T4\u2192T3)', {size:32});
txt(1546, 27, 'B', {size:38, weight:'bold'});
txt(1634, 27, 'Hypothesis 2: GBM in High Expression + High GBM Genes', {size:29});
txt(1634, 71, 'Comparing baseline (T1+T4) to stress (T2+T3) timepoints', {size:32});
txt(14, 1373, 'C', {size:38, weight:'bold'});
txt(83, 1373, 'Hypothesis 3: GBM Change in High vs Low Exon Variability Genes', {size:29});
txt(83, 1417, 'Absolute GBM change (stress vs baseline) by exon expression variability at T2+T3', {size:32});
txt(1550, 1373, 'D', {size:38, weight:'bold'});
txt(1619, 1373, 'Exon Expression Variability vs GBM Change Magnitude', {size:29});
txt(1619, 1417, 'Testing correlation between regulatory flexibility and epigenetic dynamics', {size:32});

txt(809, 1313, 'Gene Expression Changed', {size:32, align:'center'});
txt(2345, 1313, 'Period', {size:32, align:'center'});
txt(801.5, 2656, 'Exon Expression Variability (at T2+T3)', {size:32, align:'center'});
txt(2337.5, 2656, 'Mean Exon CV (at T2+T3)', {size:32, align:'center'});
txt(28, 703, 'Mean Gene Body Methylation (%)', {size:32, align:'center', rot:Math.PI / 2});
txt(1563, 703, 'Mean Gene Body Methylation (%)', {size:32, align:'center', rot:Math.PI / 2});
txt(29, 2047, '|\u0394 Gene Body Methylation| (%)', {size:32, align:'center', rot:Math.PI / 2});
txt(1565, 2047, '|\u0394 Gene Body Methylation| (%)', {size:32, align:'center', rot:Math.PI / 2});

const chart = echarts.init(document.getElementById('chart'), null, {renderer:'canvas'});
chart.setOption({
  backgroundColor:'#FFFFFF',
  animation:false,
  textStyle:{fontFamily:FONT},
  grid:grids, xAxis:xAxes, yAxis:yAxes, series:series, graphic:{elements:graphics}
});
</script></body></html>
